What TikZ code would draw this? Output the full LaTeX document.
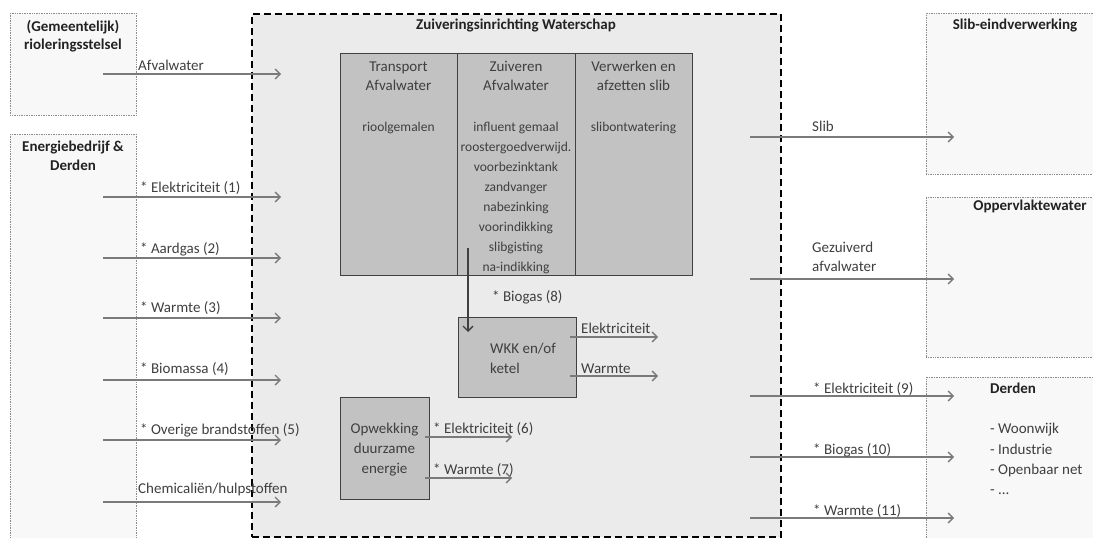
\documentclass[tikz,border=0pt]{standalone}
\usepackage{fontspec}
\setmainfont{Carlito}
\usetikzlibrary{arrows.meta}
\definecolor{txt}{HTML}{3F3F3F}
\definecolor{ttl}{HTML}{222222}
\definecolor{flowc}{HTML}{7A7A7A}
\definecolor{mainfill}{HTML}{EBEBEB}
\definecolor{procfill}{HTML}{C2C2C2}
\definecolor{extfill}{HTML}{F8F8F8}
\newcommand\myfs[1]{\fontsize{#1}{#1}\selectfont}
\begin{document}
\begin{tikzpicture}[x=1pt,y=-1pt,
  extbox/.style={draw=black!45, densely dotted, fill=extfill, line width=0.7pt, inner sep=0pt, anchor=north west},
  mainbox/.style={draw=black, dash pattern=on 7pt off 4pt, line width=1.6pt, fill=mainfill, inner sep=0pt, anchor=north west},
  procbox/.style={draw=black!75, fill=procfill, line width=1pt, inner sep=0pt, anchor=north west},
  flow/.style={draw=flowc, line width=1.3pt, -{Straight Barb[length=5pt,width=10pt,line width=1.3pt]}},
  lbl/.style={anchor=base west, inner sep=0pt, text=txt, font=\myfs{15}},
  ctr/.style={anchor=base, inner sep=0pt, text=txt, font=\myfs{15}},
  sml/.style={anchor=base, inner sep=0pt, text=txt, font=\myfs{13.5}},
  ttlc/.style={anchor=base, inner sep=0pt, text=ttl, font=\myfs{15}\bfseries},
  ttll/.style={anchor=base west, inner sep=0pt, text=ttl, font=\myfs{15}\bfseries}
]
\useasboundingbox (0,0) rectangle (1093,538);

% main boxes
\node[mainbox, minimum width=529pt, minimum height=523pt] (wzi) at (251,13) {};
\node[extbox, minimum width=126pt, minimum height=102pt] (riool) at (10,13) {};
\node[extbox, minimum width=126pt, minimum height=420pt] (energie) at (10,134) {};
\node[extbox, minimum width=200pt, minimum height=161pt] (slib) at (926,13) {};
\node[extbox, minimum width=200pt, minimum height=160pt] (opp) at (926,197) {};
\node[extbox, minimum width=200pt, minimum height=200pt] (derden) at (926,377) {};

% process boxes
\node[procbox, minimum width=117pt, minimum height=222pt] (col1) at (340,53) {};
\node[procbox, minimum width=118pt, minimum height=222pt] (col2) at (457,53) {};
\node[procbox, minimum width=117pt, minimum height=222pt] (col3) at (575,53) {};
\node[procbox, minimum width=118pt, minimum height=80pt] (wkk) at (458,317) {};
\node[procbox, minimum width=89pt, minimum height=102pt] (opw) at (340,397) {};

% titles
\node[ttlc] (tRiool1) at (73,31) {(Gemeentelijk)};
\node[ttlc] (tRiool2) at (73,49) {rioleringsstelsel};
\node[ttlc] (tEn1) at (73,151) {Energiebedrijf \&};
\node[ttlc] (tEn2) at (73,170) {Derden};
\node[ttlc] (tWzi) at (516,29) {Zuiveringsinrichting Waterschap};
\node[ttlc] (tSlib) at (1015,30) {Slib-eindverwerking};
\node[ttlc] (tOpp) at (1030,210) {Oppervlaktewater};
\node[ttll] (tDerden) at (990,393) {Derden};

% column texts
\node[ctr] (c1a) at (398.5,71) {Transport};
\node[ctr] (c1b) at (398.5,90) {Afvalwater};
\node[sml] (c1c) at (398.5,131) {rioolgemalen};
\node[ctr] (c2a) at (516,71) {Zuiveren};
\node[ctr] (c2b) at (516,90) {Afvalwater};
\foreach \t [count=\i] in {influent gemaal, roostergoedverwijd., voorbezinktank, zandvanger, nabezinking, voorindikking, slibgisting, na-indikking}
  \node[sml] (c2l\i) at (516,{131+20.1*(\i-1)}) {\t};
\node[ctr] (c3a) at (633.5,71) {Verwerken en};
\node[ctr] (c3b) at (633.5,90) {afzetten slib};
\node[sml] (c3c) at (633.5,131) {slibontwatering};

\node[lbl] (w1) at (490,353) {WKK en/of};
\node[lbl] (w2) at (490,373) {ketel};
\node[ctr] (o1) at (384.5,433) {Opwekking};
\node[ctr] (o2) at (384.5,453) {duurzame};
\node[ctr] (o3) at (384.5,473) {energie};

\node[lbl] (d1) at (990,433) {- Woonwijk};
\node[lbl] (d2) at (990,454) {- Industrie};
\node[lbl] (d3) at (990,474) {- Openbaar net};
\node[lbl] (d4) at (990,494) {- ...};

% left inflows
\foreach \n/\y/\t in {a/74/Afvalwater, e/197/* Elektriciteit (1), g/258/* Aardgas (2), w/318/* Warmte (3), b/380/* Biomassa (4), o/440/* Overige brandstoffen (5), c/502/Chemicaliën/hulpstoffen}{
  \coordinate (src\n) at (103,\y);
  \coordinate (dst\n) at (281,\y);
  \draw[flow] (src\n) -- (dst\n);
}
\node[lbl] (la) at (138,70) {Afvalwater};
\node[lbl] (le) at (140,192) {* Elektriciteit (1)};
\node[lbl] (lg) at (140,253) {* Aardgas (2)};
\node[lbl] (lw) at (140,312) {* Warmte (3)};
\node[lbl] (lb) at (140,373) {* Biomassa (4)};
\node[lbl] (lo) at (140,434) {* Overige brandstoffen (5)};
\node[lbl] (lc) at (138,493) {Chemicaliën/hulpstoffen};

% right outflows
\foreach \n/\y in {s/137, z/279, e/396, b/457, w/518}{
  \coordinate (rsrc\n) at (750,\y);
  \coordinate (rdst\n) at (954,\y);
  \draw[flow] (rsrc\n) -- (rdst\n);
}
\node[lbl] (rs) at (812,131) {Slib};
\node[lbl] (rz1) at (812,252) {Gezuiverd};
\node[lbl] (rz2) at (812,271) {afvalwater};
\node[lbl] (re) at (813,393) {* Elektriciteit (9)};
\node[lbl] (rb) at (813,454) {* Biogas (10)};
\node[lbl] (rw) at (813,515) {* Warmte (11)};

% biogas
\coordinate (bgs) at (468,248);
\coordinate (bge) at (468,332);
\draw[flow, draw=black!75] (bgs) -- (bge);
\node[lbl] (lbg) at (492,301) {* Biogas (8)};

% WKK outputs
\coordinate (wkEs) at (570,337); \coordinate (wkEe) at (658,337);
\coordinate (wkWs) at (570,376); \coordinate (wkWe) at (658,376);
\draw[flow] (wkEs) -- (wkEe);
\draw[flow] (wkWs) -- (wkWe);
\node[lbl] (lwkE) at (581,333) {Elektriciteit};
\node[lbl] (lwkW) at (581,373) {Warmte};

% Opwekking outputs
\coordinate (opEs) at (425,437); \coordinate (opEe) at (512,437);
\coordinate (opWs) at (425,478); \coordinate (opWe) at (512,478);
\draw[flow] (opEs) -- (opEe);
\draw[flow] (opWs) -- (opWe);
\node[lbl] (lopE) at (433,433) {* Elektriciteit (6)};
\node[lbl] (lopW) at (433,474) {* Warmte (7)};
\end{tikzpicture}
\end{document}
